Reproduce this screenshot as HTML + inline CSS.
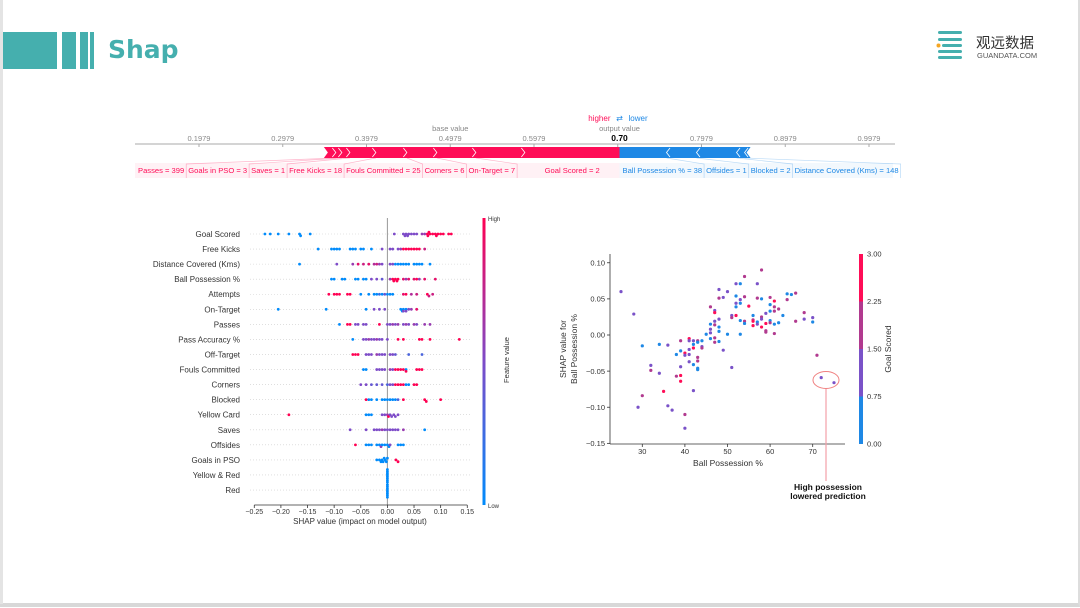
<!DOCTYPE html>
<html><head><meta charset="utf-8">
<style>
html,body{margin:0;padding:0;background:#fff;}
body{width:1080px;height:608px;position:relative;overflow:hidden;font-family:"Liberation Sans","Noto Sans CJK SC",sans-serif;}
svg text{font-family:"Liberation Sans","DejaVu Sans",sans-serif;}
</style></head>
<body>
<div style="position:absolute;left:0;top:0;width:1078px;height:603px;border-right:2px solid #ddd;border-bottom:4px solid #d8d8d8;"></div>
<div style="position:absolute;left:0;top:0;width:3px;height:604px;background:#e4e4e4;"></div>
<div style="position:absolute;left:3px;top:32px;width:54px;height:37px;background:#45afae;"></div>
<div style="position:absolute;left:62px;top:32px;width:14px;height:37px;background:#45afae;"></div>
<div style="position:absolute;left:80px;top:32px;width:8px;height:37px;background:#45afae;"></div>
<div style="position:absolute;left:90px;top:32px;width:4px;height:37px;background:#45afae;"></div>
<div style="position:absolute;left:108px;top:35px;font-size:25px;font-weight:bold;color:#45afae;font-family:'DejaVu Sans',sans-serif;">Shap</div>
<svg style="position:absolute;left:930px;top:26px" width="130" height="40">
<rect x="8" y="5" width="24" height="3" rx="1.5" fill="#45afae"/>
<rect x="8" y="12" width="24" height="3" rx="1.5" fill="#45afae"/>
<rect x="12" y="18" width="20" height="3" rx="1.5" fill="#45afae"/>
<circle cx="8.5" cy="19.5" r="2" fill="#f5a623"/>
<rect x="8" y="24" width="24" height="3" rx="1.5" fill="#45afae"/>
<rect x="8" y="30" width="24" height="3" rx="1.5" fill="#45afae"/>
<text x="46" y="22" font-size="14.5" fill="#333" style="font-family:'Noto Sans CJK SC',sans-serif">观远数据</text>
<text x="47" y="32" font-size="7.5" fill="#555">GUANDATA.COM</text>
</svg>

<svg id="force" style="position:absolute;left:0;top:0" width="1080" height="200"></svg>
<svg id="summary" style="position:absolute;left:0;top:200px" width="540" height="340"></svg>
<svg id="dep" style="position:absolute;left:540px;top:230px" width="400" height="280"></svg>

<script>
const NS="http://www.w3.org/2000/svg";
function mk(p,tag,a,txt){const e=document.createElementNS(NS,tag);for(const k in a)e.setAttribute(k,a[k]);if(txt!==undefined)e.textContent=txt;p.appendChild(e);return e;}

// ================= FORCE PLOT DATA =================
const forceTicks=[0.1979,0.2979,0.3979,0.4979,0.5979,0.6979,0.7979,0.8979,0.9979];
const baseValue=0.4979;
const outputValue=0.70;
// red (push higher), listed from output value leftwards
const redNames=["Goal Scored = 2","On-Target = 7","Corners = 6","Fouls Committed = 25","Free Kicks = 18","Saves = 1","Goals in PSO = 3","Passes = 399",""];
const redValues=[0.113,0.0585,0.0466,0.0358,0.037,0.031,0.0096,0.0072,0.0143];
// blue (push lower), listed from output value rightwards
const blueNames=["Ball Possession % = 38","Offsides = 1","Blocked = 2","Distance Covered (Kms) = 148",""];
const blueValues=[0.0561,0.0358,0.0478,0.0096,0.0072];

(function(){
const s=document.getElementById('force');
const fx=v=>199+(v-0.1979)*837.5;
const out=fx(outputValue);
const RED="#ff0d57",BLUE="#1e88e5";
let redStart=out; redValues.forEach(v=>redStart-=v*837.5);
let blueEnd=out; blueValues.forEach(v=>blueEnd+=v*837.5);
const bandR=mk(s,'rect',{x:135,y:163,width:out-135,height:15,fill:"#ff0d57","fill-opacity":0.06});


const bandB=mk(s,'rect',{x:out,y:163,width:893-out,height:15,fill:"#1e88e5","fill-opacity":0.06});


mk(s,'line',{x1:135,x2:895,y1:144,y2:144,stroke:"#aaa","stroke-width":1});
forceTicks.forEach(t=>{
  const x=fx(t);
  mk(s,'line',{x1:x,x2:x,y1:144,y2:147,stroke:"#aaa"});
  const tl=mk(s,'text',{x:x,y:141,"font-size":7.5,fill:"#888","text-anchor":"middle"},Math.abs(t-0.6979)<1e-6?"":t.toFixed(4));
  
  
});
mk(s,'text',{x:fx(baseValue),y:131,"font-size":7.5,fill:"#888","text-anchor":"middle"},"base value");
mk(s,'text',{x:out,y:131,"font-size":7.5,fill:"#888","text-anchor":"middle"},"output value");
const ov=mk(s,'text',{x:out,y:141,"font-size":8.5,"font-weight":"bold",fill:"#000","text-anchor":"middle"},outputValue.toFixed(2));


mk(s,'text',{x:out-9,y:121,"font-size":8,fill:RED,"text-anchor":"end"},"higher");
mk(s,'text',{x:out,y:121,"font-size":8,fill:"#1e88e5","text-anchor":"middle"},"⇄");
mk(s,'text',{x:out+9,y:121,"font-size":8,fill:BLUE},"lower");
const y0=147,y1=158,ym=152.5;
const rb=mk(s,'polygon',{points:`${redStart},${y0} ${out},${y0} ${out},${y1} ${redStart},${y1} ${redStart+4},${ym}`,fill:RED});


const bb=mk(s,'polygon',{points:`${out},${y0} ${blueEnd},${y0} ${blueEnd-4},${ym} ${blueEnd},${y1} ${out},${y1}`,fill:BLUE});


// red segments
let x=out;
const segs=[];
redValues.forEach((v,i)=>{const r=x;x-=v*837.5;segs.push([x,r,redNames[i]]);});
segs.forEach((sg,i)=>{
  const [l,r]=sg;
  if(i>0) mk(s,'polyline',{points:`${r-3.5},${y0+1} ${r},${ym} ${r-3.5},${y1-1}`,fill:"none",stroke:"#fff","stroke-width":0.8});
});
// red labels: leftmost feature first, laid out left to right; largest centered
let labelLeft=138;
for(let i=segs.length-1;i>=0;i--){
  const [l,r,name]=segs[i]; if(!name) continue;
  const t=mk(s,'text',{x:0,y:173,"font-size":7.6,fill:RED},name);
  
  
  const w=t.getComputedTextLength();
  let lx=labelLeft;
  if(i===0){lx=Math.max(labelLeft,(l+r)/2-w/2);}
  t.setAttribute('x',lx);
  const edge=lx+w+2;
  if(i>0) mk(s,'polyline',{points:`${edge},178 ${edge},164 ${l},${y1}`,fill:"none",stroke:RED,"stroke-opacity":0.3,"stroke-width":0.7});
  labelLeft=edge+2;
}
// blue
x=out; let bl=out+3;
blueValues.forEach((v,i)=>{
  const l=x; x+=v*837.5; const r=x;
  if(i>0) mk(s,'polyline',{points:`${l+3.5},${y0+1} ${l},${ym} ${l+3.5},${y1-1}`,fill:"none",stroke:"#fff","stroke-width":0.8});
  const name=blueNames[i]; if(!name) return;
  const t=mk(s,'text',{x:bl,y:173,"font-size":7.6,fill:BLUE},name);
  
  
  const w=t.getComputedTextLength();
  const edge=bl+w+2;
  mk(s,'polyline',{points:`${edge},178 ${edge},164 ${r},${y1}`,fill:"none",stroke:BLUE,"stroke-opacity":0.3,"stroke-width":0.7});
  bl=edge+2;
});
})();

// ================= SUMMARY PLOT DATA =================
const features=["Goal Scored","Free Kicks","Distance Covered (Kms)","Ball Possession %","Attempts","On-Target","Passes","Pass Accuracy %","Off-Target","Fouls Committed","Corners","Blocked","Yellow Card","Saves","Offsides","Goals in PSO","Yellow & Red","Red"];
const shapVals=[
 [-0.23,-0.22,-0.205,-0.185,-0.165,-0.163,-0.145,0.013,0.03,0.033,0.035,0.038,0.04,0.045,0.05,0.055,0.065,0.07,0.075,0.076,0.078,0.08,0.085,0.09,0.092,0.095,0.1,0.105,0.115,0.12],
 [-0.13,-0.105,-0.1,-0.095,-0.09,-0.07,-0.065,-0.06,-0.05,-0.045,-0.03,-0.01,0.005,0.01,0.02,0.025,0.03,0.035,0.04,0.045,0.05,0.055,0.06,0.07],
 [-0.165,-0.095,-0.065,-0.055,-0.045,-0.035,-0.025,-0.02,-0.015,-0.01,0.005,0.01,0.015,0.02,0.025,0.03,0.035,0.04,0.05,0.055,0.06,0.065,0.08],
 [-0.105,-0.1,-0.085,-0.08,-0.06,-0.055,-0.045,-0.04,-0.03,-0.02,-0.01,0.005,0.01,0.012,0.015,0.018,0.02,0.03,0.035,0.04,0.05,0.055,0.06,0.07,0.09],
 [-0.11,-0.1,-0.095,-0.09,-0.075,-0.07,-0.05,-0.035,-0.025,-0.02,-0.015,-0.01,-0.005,0,0.005,0.01,0.03,0.035,0.045,0.055,0.075,0.078,0.085],
 [-0.205,-0.115,-0.04,-0.025,-0.015,-0.005,0.025,0.028,0.03,0.035,0.03,0.035,0.04,0.045,0.055],
 [-0.09,-0.075,-0.07,-0.06,-0.055,-0.045,-0.04,-0.015,0,0.005,0.01,0.015,0.02,0.03,0.035,0.04,0.05,0.055,0.07,0.08],
 [-0.065,-0.045,-0.04,-0.035,-0.03,-0.025,-0.02,-0.015,-0.01,0,0.02,0.03,0.06,0.065,0.08,0.135],
 [-0.065,-0.06,-0.055,-0.04,-0.035,-0.03,-0.02,-0.015,-0.01,-0.005,0.005,0.01,0.015,0.04,0.065],
 [-0.045,-0.04,-0.02,-0.015,-0.01,-0.005,0.005,0.01,0.015,0.02,0.025,0.03,0.035,0.035,0.055,0.06,0.065],
 [-0.05,-0.04,-0.03,-0.02,-0.01,0,0.005,0.01,0.015,0.02,0.025,0.03,0.035,0.04,0.05,0.055],
 [-0.04,-0.035,-0.03,-0.02,-0.01,-0.005,0,0.005,0.01,0.015,0.02,0.03,0.07,0.073,0.1],
 [-0.185,-0.04,-0.035,-0.03,-0.01,-0.005,0,0.002,0.005,0.008,0.012,0.015,0.02],
 [-0.07,-0.04,-0.025,-0.02,-0.015,-0.01,-0.005,0,0.005,0.01,0.015,0.02,0.03,0.07],
 [-0.06,-0.04,-0.035,-0.03,-0.02,-0.015,-0.012,-0.01,-0.005,0,0.003,0.005,0.02,0.025,0.03],
 [-0.02,-0.015,-0.012,-0.01,-0.008,-0.006,-0.004,-0.002,0,0.016,0.02],
 [0,0,0,0,0,0,0,0],
 [0,0,0,0,0,0,0,0]
];
const featVals=[
 [0,0,0,0,0,0,0,0.5,0.5,0.5,0.5,0.5,0.5,0.5,0.5,0.5,0.6,0.6,1,1,1,1,1,1,1,1,1,1,1,1],
 [0,0,0,0,0,0,0,0,0,0,0,0.5,0.5,0.5,0.5,0.6,1,1,1,1,1,1,1,0.8],
 [0,0.5,0.6,0.9,0.8,0.9,0.7,0.8,0.6,0.5,0.5,0.5,0,0,0,0,0,0,0,0,0,0,0],
 [0,0,0,0,0,0,0,0,0.5,0.5,0.4,0.6,1,1,1,1,1,0.9,0.6,0.9,0.9,1,0.6,0.9,0.9],
 [1,1,1,1,1,1,0,0,0,0,0.2,0,0.4,0,0,0,0.9,1,0.7,0.8,1,0.8,0.8],
 [0,0,0,0.5,0.5,0.5,0,0,0,0,0.5,0.5,0.5,0.6,0.9],
 [0,1,1,0.5,0.5,0.5,0.5,1,0.5,0.5,0.6,0.5,0.6,0.5,0.6,0.5,0.6,0.5,0.6,0.6],
 [0,0.5,0.5,0.6,0.5,0.5,0.6,0.5,0.5,0.5,1,1,1,1,1,1],
 [1,1,1,0.5,0.5,0.5,0.6,0.5,0.5,0.5,0.5,0.5,0.4,0.3,0.3],
 [0,0,0.5,0.5,0.5,0.5,0.6,0.5,1,1,1,1,0,1,1,1,1],
 [0.5,0.5,0.4,0.4,0.4,0.3,0.5,0.5,1,1,1,1,0,0,1,1],
 [1,0,0,0,0,0,0,0,0,0,0.3,1,1,1,1],
 [1,0,0,0,0.5,0.5,0.6,1,0.5,0.5,0.5,0.5,0.5],
 [0.5,0.5,0.5,0.5,0.5,0.6,0.5,0.5,0.5,0.5,0.5,0.5,0.6,0],
 [1,0,0,0,0,0,0.6,0,0,0,0,0.5,0,0,0],
 [0,0,0,0,0,0,0,0,0,1,1],
 [0,0,0,0,0,0,0,0],
 [0,0,0,0,0,0,0,0]
];
const summaryTicks=[-0.25,-0.20,-0.15,-0.10,-0.05,0.00,0.05,0.10,0.15];

(function(){
const s=document.getElementById('summary');
const oy=200;
const sx=v=>387.4+v*532.5;
const sy=i=>234+i*15.06-oy;
function col(t){const a=[0,139,251],b=[255,0,82],m=[125,75,200];let c;
 if(t<0.5){const u=t/0.5;c=a.map((v,k)=>v+(m[k]-v)*u);}else{const u=(t-0.5)/0.5;c=m.map((v,k)=>v+(b[k]-v)*u);}
 return `rgb(${c.map(Math.round).join(',')})`;}
features.forEach((f,i)=>{
  mk(s,'line',{x1:250,x2:470,y1:sy(i),y2:sy(i),stroke:"#ccc","stroke-width":0.6,"stroke-dasharray":"1,2"});
  const t=mk(s,'text',{x:240,y:sy(i)+3,"font-size":8,fill:"#333","text-anchor":"end"},f);
  
  
});
mk(s,'line',{x1:sx(0),x2:sx(0),y1:218-oy,y2:505-oy,stroke:"#999","stroke-width":1});
features.forEach((f,i)=>{
  const vals=shapVals[i], fv=featVals[i];
  const idx=vals.map((v,k)=>k).sort((a,b)=>vals[a]-vals[b]);
  let lastX=-1e9,stack=0;
  idx.forEach(k=>{
    const px=sx(vals[k]);
    if(px-lastX<2.5){stack++;}else{stack=0;lastX=px;}
    const off=stack===0?0:(stack%2?1:-1)*Math.ceil(stack/2)*1.8;
    const c=mk(s,'circle',{cx:px,cy:sy(i)+off,r:1.4,fill:col(fv[k])});
    
    
  });
});
mk(s,'line',{x1:sx(-0.25),x2:sx(0.15),y1:505-oy,y2:505-oy,stroke:"#333","stroke-width":0.8});
summaryTicks.forEach(t=>{
  mk(s,'line',{x1:sx(t),x2:sx(t),y1:505-oy,y2:508-oy,stroke:"#333","stroke-width":0.8});
  const tl=mk(s,'text',{x:sx(t),y:514-oy,"font-size":7,fill:"#333","text-anchor":"middle"},(t<0?"\u2212":"")+Math.abs(t).toFixed(2));
  
  
});
const xl=mk(s,'text',{x:360,y:524-oy,"font-size":8,fill:"#333","text-anchor":"middle"},"SHAP value (impact on model output)");


const g=mk(s,'defs',{});const lg=mk(g,'linearGradient',{id:"cbg",x1:0,y1:1,x2:0,y2:0});
mk(lg,'stop',{offset:"0",'stop-color':col(0)});mk(lg,'stop',{offset:"0.5",'stop-color':col(0.5)});mk(lg,'stop',{offset:"1",'stop-color':col(1)});
const cb=mk(s,'rect',{x:482.5,y:218-oy,width:3,height:287,fill:"url(#cbg)"});


mk(s,'text',{x:488,y:221-oy,"font-size":6,fill:"#333"},"High");
mk(s,'text',{x:488,y:508-oy,"font-size":6,fill:"#333"},"Low");
mk(s,'text',{x:0,y:0,"font-size":7.5,fill:"#333","text-anchor":"middle",transform:`translate(509,${360-oy}) rotate(-90)`},"Feature value");
})();

// ================= DEPENDENCE PLOT DATA =================
const possession=[25,28,29,30,30,32,32,34,34,35,36,36,37,38,38,39,39,39,39,39,40,40,40,40,41,41,41,41,41,42,42,42,42,42,43,43,43,43,43,43,44,44,44,45,46,46,46,46,46,47,47,47,47,47,47,48,48,48,48,48,48,49,49,50,50,51,51,51,52,52,52,52,52,53,53,53,53,53,54,54,54,54,55,56,56,56,56,57,57,57,57,58,58,58,58,58,59,59,59,59,60,60,60,60,60,61,61,61,61,61,62,62,63,64,64,65,66,66,68,68,70,70,71,72,75];
const shapPossession=[0.06,0.029,-0.1,-0.015,-0.084,-0.042,-0.049,-0.013,-0.053,-0.078,-0.014,-0.098,-0.104,-0.027,-0.057,-0.008,-0.022,-0.044,-0.056,-0.064,-0.025,-0.028,-0.11,-0.129,-0.005,-0.008,-0.02,-0.027,-0.037,-0.008,-0.013,-0.018,-0.041,-0.077,-0.008,-0.01,-0.031,-0.036,-0.046,-0.048,-0.008,-0.016,-0.018,0.001,0.039,0.015,0.008,0.003,-0.005,0.034,0.031,0.019,0.014,-0.004,-0.01,0.063,0.051,0.022,0.011,0.005,-0.009,0.052,-0.021,0.06,0.001,0.027,0.024,-0.045,0.071,0.054,0.044,0.039,0.027,0.071,0.049,0.044,0.02,0.001,0.081,0.053,0.019,0.016,0.04,0.027,0.021,0.019,0.013,0.071,0.051,0.018,0.015,0.09,0.05,0.025,0.022,0.011,0.03,0.016,0.006,0.004,0.052,0.042,0.033,0.02,0.017,0.047,0.039,0.033,0.015,0.002,0.036,0.017,0.027,0.057,0.049,0.056,0.058,0.019,0.031,0.022,0.024,0.018,-0.028,-0.059,-0.066];
const goalsScored=[1,1,1,0,2,1,2,0,1,3,1,1,1,0,2,2,0,1,3,3,3,1,2,1,3,1,1,1,1,1,0,3,0,1,2,0,2,2,0,0,0,1,2,0,2,0,1,1,0,1,3,1,2,2,2,1,2,1,0,0,0,1,1,1,0,1,2,1,1,0,1,0,3,0,1,0,0,0,2,2,2,0,3,0,2,3,3,1,2,0,1,2,0,2,1,3,1,3,2,2,2,0,0,0,2,3,2,2,0,2,2,0,0,0,2,0,2,2,2,1,1,0,2,1,1];
const depXTicks=[30,40,50,60,70];
const depYTicks=[0.10,0.05,0.00,-0.05,-0.10,-0.15];
const cbarTicks=[3.00,2.25,1.50,0.75,0.00];

(function(){
const s=document.getElementById('dep');
const ox=540,oy=230;
const dx=v=>642.3+(v-30)*4.26-ox;
const dy=v=>335-v*722.4-oy;
const gcol=g=>g<0.75?"#1e88e5":g<1.5?"#7a52c8":g<2.25?"#b13a8f":"#ff0d57";
mk(s,'line',{x1:610-ox,x2:610-ox,y1:254-oy,y2:444-oy,stroke:"#333","stroke-width":0.8});
mk(s,'line',{x1:610-ox,x2:845-ox,y1:444-oy,y2:444-oy,stroke:"#333","stroke-width":0.8});
depYTicks.forEach(t=>{
  mk(s,'line',{x1:607-ox,x2:610-ox,y1:dy(t),y2:dy(t),stroke:"#333","stroke-width":0.8});
  const tl=mk(s,'text',{x:605-ox,y:dy(t)+2.7,"font-size":7.5,fill:"#333","text-anchor":"end"},(t<0?"\u2212":"")+Math.abs(t).toFixed(2));
  
  
});
depXTicks.forEach(t=>{
  mk(s,'line',{x1:dx(t),x2:dx(t),y1:444-oy,y2:447-oy,stroke:"#333","stroke-width":0.8});
  const tl=mk(s,'text',{x:dx(t),y:454-oy,"font-size":7.5,fill:"#333","text-anchor":"middle"},t);
  
  
});
const xt=mk(s,'text',{x:728-ox,y:466-oy,"font-size":8.5,fill:"#333","text-anchor":"middle"},"Ball Possession %");


const yt=mk(s,'text',{x:0,y:0,"font-size":8.5,fill:"#333","text-anchor":"middle",transform:`translate(${566-ox},${349-oy}) rotate(-90)`},"SHAP value for");


mk(s,'text',{x:0,y:0,"font-size":8.5,fill:"#333","text-anchor":"middle",transform:`translate(${577-ox},${349-oy}) rotate(-90)`},"Ball Possession %");
possession.forEach((p,i)=>{
  const c=mk(s,'circle',{cx:dx(p),cy:dy(shapPossession[i]),r:1.6,fill:gcol(goalsScored[i])});
  
  
});
const cy=v=>444-oy-(v/3)*190;
[[0,0.75],[0.75,1.5],[1.5,2.25],[2.25,3]].forEach(b=>{
  const r=mk(s,'rect',{x:859-ox,y:cy(b[1]),width:4,height:cy(b[0])-cy(b[1]),fill:gcol(b[0]+0.1)});
  
  
});
cbarTicks.forEach(t=>{
  mk(s,'text',{x:867-ox,y:cy(t)+2.7,"font-size":7.5,fill:"#333"},t.toFixed(2));
});
mk(s,'text',{x:0,y:0,"font-size":8.5,fill:"#333","text-anchor":"middle",transform:`translate(${891-ox},${349-oy}) rotate(-90)`},"Goal Scored");
const el=mk(s,'ellipse',{cx:826-ox,cy:380-oy,rx:13,ry:8.5,fill:"none",stroke:"#f08080","stroke-width":1});


mk(s,'line',{x1:826-ox,x2:826-ox,y1:389-oy,y2:481-oy,stroke:"#f4a0a8","stroke-width":1.2});
const a1=mk(s,'text',{x:828-ox,y:490-oy,"font-size":8.5,"font-weight":"bold",fill:"#111","text-anchor":"middle"},"High possession");


mk(s,'text',{x:828-ox,y:499-oy,"font-size":8.5,"font-weight":"bold",fill:"#111","text-anchor":"middle"},"lowered prediction");
})();
</script>
</body></html>
